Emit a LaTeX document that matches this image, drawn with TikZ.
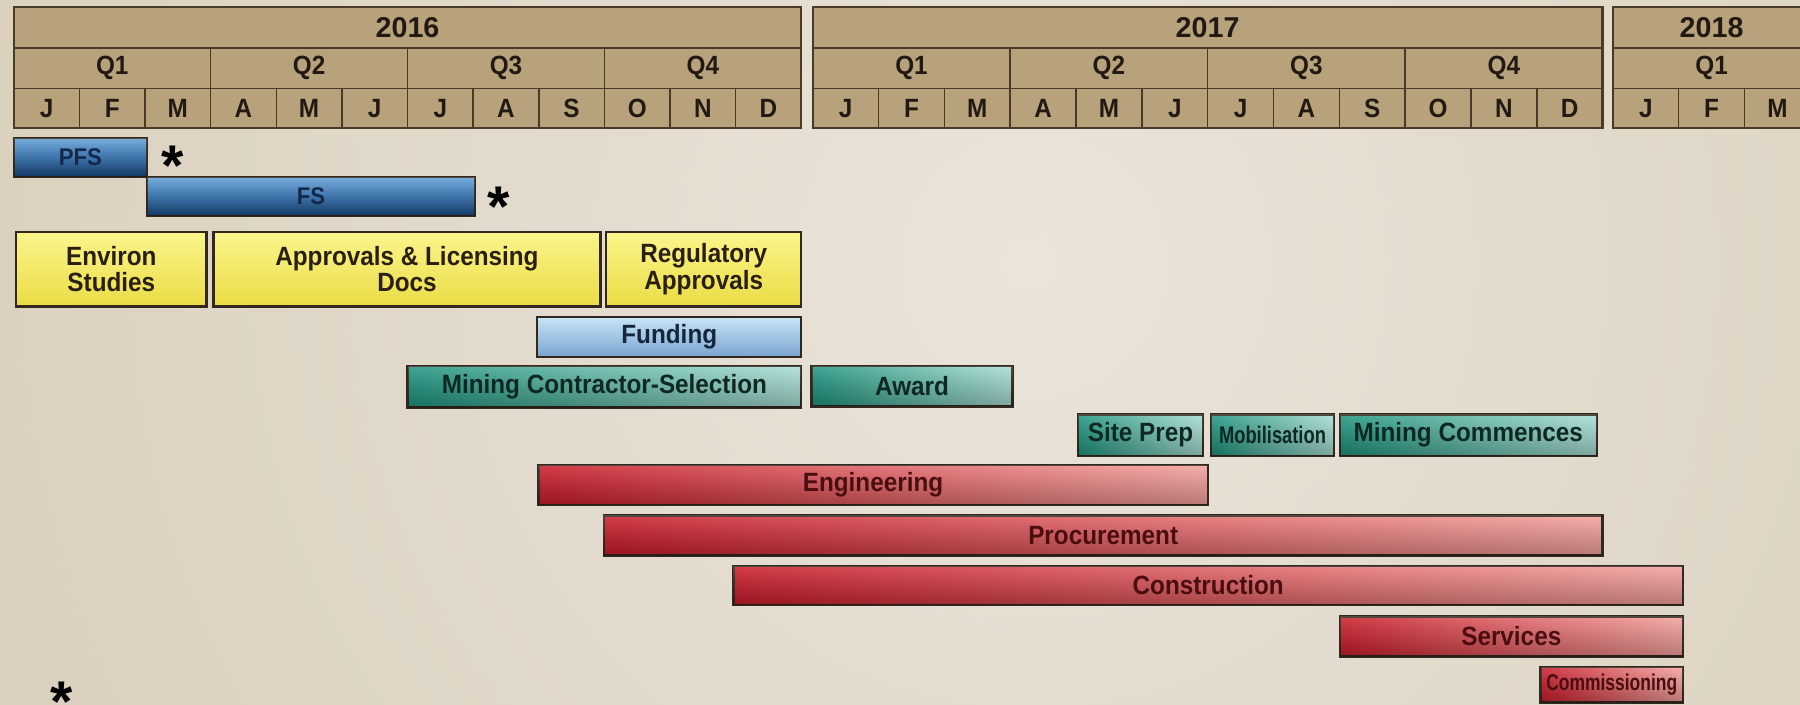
\documentclass[tikz,border=0pt]{standalone}
\usepackage{fontspec}
\usetikzlibrary{fadings}
\newfontfamily\gfont[FakeStretch=0.92]{Liberation Sans}
\newfontfamily\gnarrow[FakeStretch=0.76]{Liberation Sans}
\newfontfamily\gwide{Liberation Sans}
\definecolor{bgin}{HTML}{EAE4DA}
\definecolor{bgout}{HTML}{C5B698}
\definecolor{hfillc}{HTML}{B7A27C}
\definecolor{hlinec}{HTML}{4A3B29}
\definecolor{htextc}{HTML}{221A12}
\definecolor{blinec}{HTML}{33281F}
\definecolor{bluetop}{HTML}{62A2DA}
\definecolor{bluemid}{HTML}{3A7CBE}
\definecolor{bluebot}{HTML}{1B4C86}
\definecolor{bluetext}{HTML}{13284A}
\definecolor{yeltop}{HTML}{FBF58C}
\definecolor{yelbot}{HTML}{EBDC45}
\definecolor{yeltext}{HTML}{2A2012}
\definecolor{fundtop}{HTML}{C8E4F8}
\definecolor{fundbot}{HTML}{79A4CF}
\definecolor{fundtext}{HTML}{16263C}
\definecolor{tealleft}{HTML}{1E957F}
\definecolor{tealmid}{HTML}{4CB5A3}
\definecolor{tealright}{HTML}{A9DFD5}
\definecolor{tealtext}{HTML}{0E2824}
\definecolor{redleft}{HTML}{CC1C2A}
\definecolor{redmid}{HTML}{DF4650}
\definecolor{redright}{HTML}{F5A29E}
\definecolor{redtext}{HTML}{4A0E10}
\tikzfading[name=botdark, top color=transparent!100, middle color=transparent!95, bottom color=transparent!75]
\tikzfading[name=tophl, top color=transparent!85, middle color=transparent!95, bottom color=transparent!100]
\newcommand\gbar[7]{\node[#1, minimum width={#4-#3}, minimum height={#6-#5}] (#2) at ({(#3+#4)/2},{(#5+#6)/2}) {#7};}
% #1 x0, #2 x1, #3 year, #4 id, #5 year label x, #6 quarters shown, #7 months shown
\newcommand\yblock[7]{%
  \fill[hfillc] (#1,6) rectangle (#2,111.8);
  \pgfmathsetmacro\mw{(#2-#1)/12}
  \draw[hsep] (#1,42) -- (#2,42) (#1,77) -- (#2,77);
  \foreach \q in {1,2,3} \draw[hsep] ({#1+3*\q*\mw},42) -- ({#1+3*\q*\mw},111.8);
  \foreach \m in {1,...,11} \draw[hsep] ({#1+\m*\mw},77) -- ({#1+\m*\mw},111.8);
  \draw[hframe] (#1,6) rectangle (#2,111.8);
  \node[ytxt] (y#4) at (#5,24) {#3};
  \foreach \q in {1,...,#6} \node[htxt] (q#4\q) at ({#1+(3*\q-1.5)*\mw},59.5) {Q\q};
  \foreach \m [count=\i from 0] in {#7} \node[htxt] (m#4\i) at ({#1+(\i+0.5)*\mw},94.5) {\m};
}
\begin{document}
\begin{tikzpicture}[x=1pt,y=-1pt,
  hsep/.style={draw=hlinec, line width=1.3pt},
  hframe/.style={draw=hlinec, line width=2pt},
  htxt/.style={font=\gfont\bfseries\fontsize{23}{24}\selectfont, text=htextc, inner sep=0pt},
  ytxt/.style={font=\gwide\bfseries\fontsize{25}{25}\selectfont, text=htextc, inner sep=0pt},
  gloss/.style={postaction={fill=white, path fading=tophl, fit fading=true},
                postaction={fill=black, path fading=botdark, fit fading=true}},
  gb/.style={draw=blinec, line width=2pt, inner sep=0pt, align=center,
    font=\gfont\bfseries\fontsize{23}{23}\selectfont},
  narrowtxt/.style={font=\gnarrow\bfseries\fontsize{21}{22}\selectfont},
  bluebar/.style={gb, gloss, top color=bluetop, bottom color=bluebot, middle color=bluemid, text=bluetext,
    font=\gfont\bfseries\fontsize{21}{22}\selectfont},
  yelbar/.style={gb, top color=yeltop, bottom color=yelbot, text=yeltext},
  fundbar/.style={gb, top color=fundtop, bottom color=fundbot, text=fundtext},
  tealbar/.style={gb, gloss, left color=tealleft, middle color=tealmid, right color=tealright, text=tealtext},
  redbar/.style={gb, gloss, left color=redleft, middle color=redmid, right color=redright, text=redtext},
  startxt/.style={font=\gwide\bfseries\fontsize{50}{50}\selectfont, text=black, inner sep=0pt, anchor=north}]
\useasboundingbox (0,0) rectangle (1568,614);
\begin{scope}
\clip (0,0) rectangle (1568,614);
\shade[inner color=bgin, outer color=bgout] (-1300,-1970) rectangle (3100,2430);
% header
\yblock{12}{698}{2016}{a}{355}{4}{J,F,M,A,M,J,J,A,S,O,N,D}
\yblock{708}{1396}{2017}{b}{1052}{4}{J,F,M,A,M,J,J,A,S,O,N,D}
\yblock{1405}{2093}{2018}{c}{1491}{1}{J,F,M}
% bars
\gbar{bluebar}{pfs}{12}{128}{120}{154}{PFS}
\gbar{bluebar}{fs}{128}{414}{154}{188}{FS}
\node[startxt] (star1) at (150,127) {*};
\node[startxt] (star2) at (434,163) {*};
\gbar{yelbar}{env}{14}{180}{202}{267}{Environ\\Studies}
\gbar{yelbar}{appr}{186}{523}{202}{267}{Approvals \& Licensing\\Docs}
\gbar{yelbar}{reg}{528}{698}{202}{267}{Regulatory\\Approvals}
\gbar{fundbar}{fund}{468}{698}{276}{311}{Funding}
\gbar{tealbar}{mcs}{355}{698}{319}{355}{Mining Contractor-Selection}
\gbar{tealbar}{award}{707}{882}{319}{354}{Award}
\gbar{tealbar}{site}{939}{1048}{361}{397}{Site Prep}
\gbar{tealbar,narrowtxt}{mob}{1055}{1162}{361}{397}{Mobilisation}
\gbar{tealbar}{mcom}{1167}{1391}{361}{397}{Mining Commences}
\gbar{redbar}{eng}{469}{1052}{405}{440}{Engineering}
\gbar{redbar}{proc}{526}{1396}{449}{484}{Procurement}
\gbar{redbar}{cons}{639}{1466}{493}{527}{Construction}
\gbar{redbar}{serv}{1167}{1466}{537}{572}{Services}
\gbar{redbar,font=\gnarrow\bfseries\fontsize{20}{20}\selectfont}{comm}{1342}{1466}{581}{612}{Commissioning}
\node[startxt] (star3) at (54,594) {*};
\end{scope}
\end{tikzpicture}
\end{document}
